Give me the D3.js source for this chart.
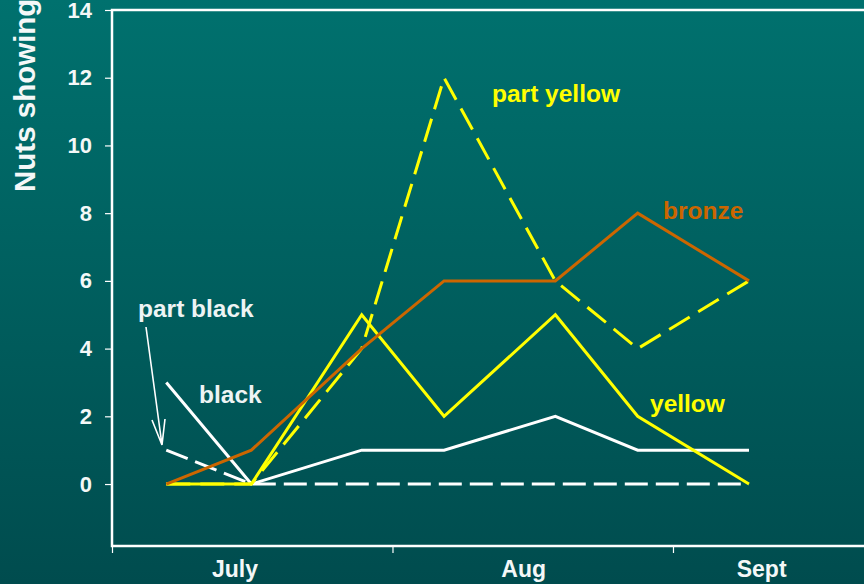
<!DOCTYPE html>
<html>
<head>
<meta charset="utf-8">
<script src="https://cdn.jsdelivr.net/npm/d3@7"></script>
<style>
  html, body { margin: 0; padding: 0; overflow: hidden; }
  svg { display: block; font-family: "Liberation Sans", Arial, sans-serif; font-weight: bold; }
</style>
</head>
<body>
<svg id="chart" width="864" height="584"></svg>
<script>
// sampling dates, as days counted from 1 July
var sampleDays = [6, 15.4, 27.6, 36.7, 49, 58.1, 70.4];

var partBlack  = [1, 0, 0, 0, 0, 0, 0];
var black      = [3, 0, 1, 1, 2, 1, 1];
var partYellow = [0, 0, 4, 12, 6, 4, 6];
var yellow     = [0, 0, 5, 2, 5, 2, 0];
var bronze     = [0, 1, 4, 6, 6, 8, 6];

var monthNames = ["July", "Aug", "Sept"];
var monthStarts = [0, 31, 62];
var yTicks = [0, 2, 4, 6, 8, 10, 12, 14];

var svg = d3.select("#chart");
var W = 864, H = 584;
var plotLeft = 112, plotTop = 10, plotBottom = 546;

var defs = svg.append("defs");
var grad = defs.append("linearGradient")
  .attr("id", "bg").attr("x1", 0).attr("y1", 0).attr("x2", 0).attr("y2", 1);
grad.append("stop").attr("offset", "0%").attr("stop-color", "#00716e");
grad.append("stop").attr("offset", "100%").attr("stop-color", "#004c4e");
svg.append("rect").attr("width", W).attr("height", H).attr("fill", "url(#bg)");

var x = d3.scaleLinear().domain([0, 93]).range([plotLeft, plotLeft + 93 * 9.048]);
var y = d3.scaleLinear().domain([-1.83, 14]).range([plotBottom, plotTop]);

// plot frame
svg.append("path")
  .attr("d", "M" + W + "," + plotTop + "H" + plotLeft + "V" + plotBottom + "H" + W)
  .attr("fill", "none").attr("stroke", "#fff").attr("stroke-width", 2.5);

// y axis
var yAxis = svg.append("g")
  .attr("transform", "translate(" + plotLeft + ",0)")
  .call(d3.axisLeft(y).tickValues(yTicks).tickSize(7).tickPadding(13));
yAxis.select(".domain").remove();
yAxis.selectAll("line").attr("stroke", "#fff").attr("stroke-width", 1.2);
yAxis.selectAll("text")
  .attr("fill", "#f4f8f8").style("font-size", "22px").style("font-weight", "bold")
  .style("font-family", "Liberation Sans, Arial, sans-serif");

// x axis
var xAxis = svg.append("g")
  .attr("transform", "translate(0," + plotBottom + ")")
  .call(d3.axisBottom(x).tickValues(monthStarts).tickSize(7).tickFormat(""));
xAxis.select(".domain").remove();
xAxis.selectAll("line").attr("stroke", "#fff").attr("stroke-width", 1.2);

var monthLabelDays = [13.6, 45.5, 71.8];
svg.selectAll(".month").data(monthNames).enter().append("text")
  .attr("class", "month")
  .attr("x", function (d, i) { return x(monthLabelDays[i]); })
  .attr("y", 577)
  .attr("text-anchor", "middle")
  .attr("fill", "#f4f8f8")
  .style("font-size", "23px")
  .text(function (d) { return d; });

// y label
svg.append("text")
  .attr("transform", "translate(35,192) rotate(-90)")
  .attr("fill", "#f4f8f8")
  .style("font-size", "29.5px")
  .text("Nuts showing");

var line = d3.line()
  .x(function (d, i) { return x(sampleDays[i]); })
  .y(function (d) { return y(d); });

var series = [
  { values: partBlack,  color: "#ffffff", dash: "23,8" },
  { values: black,      color: "#ffffff", dash: null },
  { values: partYellow, color: "#ffff00", dash: "24,10" },
  { values: yellow,     color: "#ffff00", dash: null },
  { values: bronze,     color: "#cc6600", dash: null }
];

svg.selectAll(".series").data(series).enter().append("path")
  .attr("class", "series")
  .attr("d", function (d) { return line(d.values); })
  .attr("fill", "none")
  .attr("stroke", function (d) { return d.color; })
  .attr("stroke-width", 3)
  .attr("stroke-dasharray", function (d) { return d.dash; })
  .attr("stroke-linejoin", "miter");

// series labels
var labels = [
  { text: "part yellow", x: 492, y: 102, color: "#ffff00" },
  { text: "bronze", x: 663, y: 219, color: "#cc6600" },
  { text: "yellow", x: 650, y: 412, color: "#ffff00" },
  { text: "black", x: 199, y: 403, color: "#eef4f4" },
  { text: "part black", x: 138, y: 317, color: "#eef4f4" }
];
svg.selectAll(".lab").data(labels).enter().append("text")
  .attr("class", "lab")
  .attr("x", function (d) { return d.x; })
  .attr("y", function (d) { return d.y; })
  .attr("fill", function (d) { return d.color; })
  .style("font-size", "24.5px")
  .text(function (d) { return d.text; });

// arrow from "part black" to its first point
svg.append("path")
  .attr("d", "M146,327L162,445M152,420L162,445L165,419")
  .attr("fill", "none").attr("stroke", "#fff").attr("stroke-width", 1.6);
</script>
</body>
</html>
